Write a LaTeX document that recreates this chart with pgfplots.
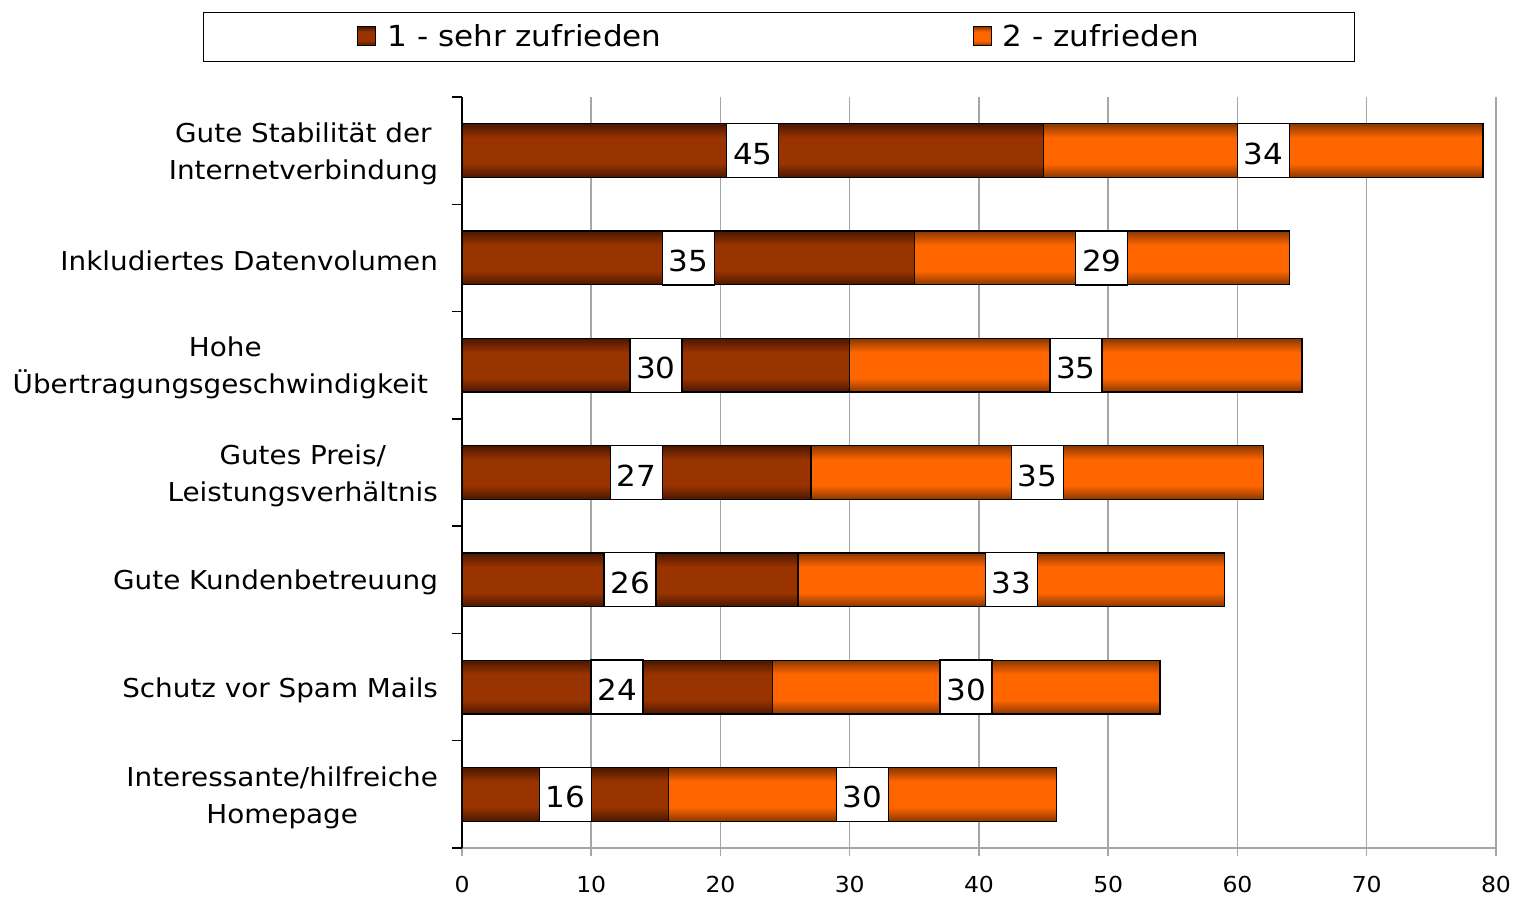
\documentclass[border=0pt]{standalone}
\usepackage{pgfplots}
\usepackage{pgfplotstable}
\pgfplotsset{compat=1.18}
\usepackage{fontspec}
\setmainfont{DejaVu Sans}[FakeStretch=1.07]
\definecolor{brownbase}{HTML}{993300}
\definecolor{brownedge}{HTML}{4A1800}
\definecolor{orangebase}{HTML}{FF6600}
\definecolor{orangeedge}{HTML}{8A3700}
\definecolor{gridgray}{HTML}{A6A6A6}
\pgfdeclareverticalshading{brownbar}{100bp}{color(0bp)=(brownedge); color(25bp)=(brownedge); color(38bp)=(brownbase); color(62bp)=(brownbase); color(75bp)=(brownedge); color(100bp)=(brownedge)}
\pgfdeclareverticalshading{orangebar}{100bp}{color(0bp)=(orangeedge); color(25bp)=(orangeedge); color(38bp)=(orangebase); color(62bp)=(orangebase); color(75bp)=(orangeedge); color(100bp)=(orangeedge)}
\pgfplotstableread{
idx a b
6 45 34
5 35 29
4 30 35
3 27 35
2 26 33
1 24 30
0 16 30
}\datatable
\begin{document}
\begin{tikzpicture}
\pgfplotsset{
  common/.style={
    scale only axis, width=517pt, height=375.5pt,
    xmin=0, xmax=80, ymin=-0.5, ymax=6.5,
    /pgf/number format/assume math mode=true,
  },
  legimg/.style={legend image code/.code={\draw[##1, line width=0.5pt] (0pt,-4.5pt) rectangle (9pt,5pt); \path (12.5pt,0pt);}},
}
\begin{axis}[common, name=main,
  xbar, bar width=0.5, bar shift=0pt,
  axis x line*=bottom, axis y line*=left,
  x axis line style={gridgray, line width=0.75pt, -},
  y axis line style={black, line width=0.75pt, -},
  xtick={0,10,...,80},
  xmajorgrids, grid style={gridgray, line width=0.75pt},
  major x tick style={gridgray, line width=0.75pt},
  tick align=outside, major tick length=4pt,
  ytick={0,...,6},
  yticklabels={{Interessante/hilfreiche\\Homepage},{Schutz vor Spam Mails},{Gute Kundenbetreuung},{Gutes Preis/\\Leistungsverhältnis},{Hohe\\Übertragungsgeschwindigkeit\hspace*{5pt}},{Inkludiertes Datenvolumen},{Gute Stabilität der\\Internetverbindung}},
  major y tick style={draw=none},
  minor ytick={-0.5,0.5,...,6.5},
  minor y tick style={black, line width=0.75pt},
  minor tick length=5pt,
  yticklabel style={align=center, font=\fontsize{13}{18.5}\selectfont, xshift=-4.5pt, yshift=-1.5pt},
  xticklabel style={font=\fontsize{11}{13}\selectfont, yshift=-6.5pt},
  legend columns=2,
  legend style={at={(0.3066,1)}, anchor=south, yshift=17.5pt, draw=black, line width=0.7pt,
    inner xsep=77pt, inner ysep=4pt, font=\fontsize{14.5}{17}\selectfont,
    /tikz/every even column/.append style={column sep=0pt}},
  legimg,
]
\addlegendimage{legimg, shade, shading=brownbar, draw=black}
\addlegendentry{\makebox[290.5pt][l]{1 - sehr zufrieden}}
\addlegendimage{legimg, shade, shading=orangebar, draw=black}
\addlegendentry{\makebox[97pt][l]{2 - zufrieden}}
\pgfplotsinvokeforeach{0,...,6}{
  \addplot[shade, shading=orangebar, draw=black, line width=0.65pt, forget plot]
    table[x expr=\thisrow{a}+\thisrow{b}, y=idx, restrict expr to domain={\thisrow{idx}}{#1:#1}] {\datatable};
}
\pgfplotsinvokeforeach{0,...,6}{
  \addplot[shade, shading=brownbar, draw=black, line width=0.65pt, forget plot]
    table[x=a, y=idx, restrict expr to domain={\thisrow{idx}}{#1:#1}] {\datatable};
}
\end{axis}
\begin{axis}[common, hide axis, clip=false,
  nodes near coords,
  point meta=explicit,
  every node near coord/.append style={fill=white, draw=black, line width=0.65pt, text=black,
    minimum height=27pt, minimum width=26pt, inner sep=0pt, anchor=center,
    text height=13.6pt, text depth=0pt,
    font=\fontsize{14.5}{17}\selectfont},
]
\addplot[only marks, mark=none] table[x expr=\thisrow{a}/2, y=idx, meta=a] {\datatable};
\addplot[only marks, mark=none] table[x expr=\thisrow{a}+\thisrow{b}/2, y=idx, meta=b] {\datatable};
\end{axis}
\pgfresetboundingbox
\path[use as bounding box] ([xshift=-231pt, yshift=-24.5pt]main.south west) rectangle ([xshift=8.5pt, yshift=48.5pt]main.north east);
\end{tikzpicture}
\end{document}
